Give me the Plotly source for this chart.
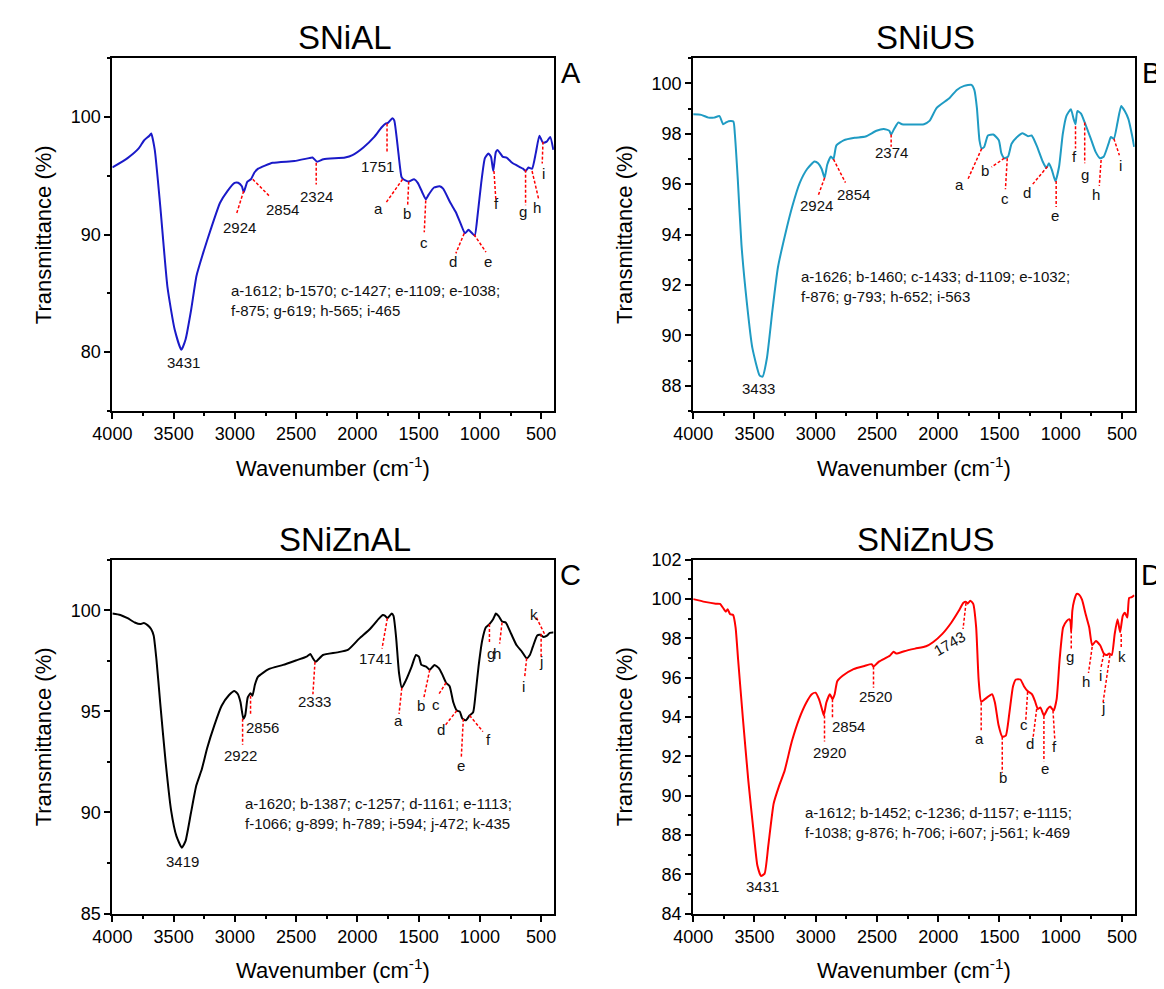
import plotly.graph_objects as go

# ---------------- data ----------------
panels = ["A", "B", "C", "D"]
titles = ["SNiAL", "SNiUS", "SNiZnAL", "SNiZnUS"]
colors = ["#1a1ac8", "#1f9bc3", "#000000", "#ff0000"]

wn_A = [4000,3876,3787,3742,3698,3683,3654,3609,3550,3491,3437,3402,3357,3313,3254,3195,3121,3061,3002,2973,2943,2928,2898,2869,2839,2810,2691,2514,2395,2366,2330,2277,2100,2040,1951,1862,1803,1767,1750,1714,1699,1670,1640,1625,1581,1537,1507,1471,1442,1418,1374,1329,1300,1241,1196,1152,1122,1093,1063,1042,1019,989,959,930,909,891,870,856,812,782,737,648,625,604,574,544,514,485,455,426,400]
t_A = [95.7,96.5,97.3,98.0,98.4,98.6,97.2,92.4,85.5,81.9,80.2,81.1,83.6,86.5,88.6,90.5,92.7,93.7,94.4,94.4,94.1,93.6,94.5,94.7,95.3,95.6,96.1,96.25,96.5,96.55,96.2,96.4,96.55,96.75,97.4,98.3,99.1,99.45,99.5,99.9,99.7,97.4,94.9,94.7,94.5,94.7,94.4,93.6,93.0,93.4,94.0,94.1,93.9,92.7,91.9,90.8,90.1,90.4,90.1,89.9,91.6,94.4,96.5,96.9,96.6,95.4,97.0,97.2,96.6,96.55,96.1,95.6,95.4,95.7,95.6,96.9,98.4,97.8,97.9,98.3,97.2]

wn_B = [4000,3934,3875,3830,3785,3756,3732,3711,3672,3660,3636,3606,3562,3517,3457,3434,3398,3353,3308,3249,3189,3130,3070,3010,2980,2951,2927,2906,2876,2855,2831,2772,2682,2593,2504,2444,2399,2384,2360,2325,2295,2116,2071,2012,1907,1848,1788,1728,1705,1684,1663,1645,1624,1594,1550,1505,1484,1460,1430,1401,1356,1311,1266,1237,1192,1147,1117,1096,1072,1043,1013,983,953,917,894,879,864,834,804,759,715,679,649,610,590,566,536,506,477,447,417,400]
t_B = [98.77,98.75,98.64,98.64,98.7,98.38,98.45,98.5,98.49,98.0,96.2,93.6,91.3,89.5,88.4,88.36,89.1,91.0,92.7,94.0,95.15,96.05,96.6,96.9,96.83,96.6,96.25,96.77,97.1,96.99,97.54,97.74,97.84,97.89,98.12,98.19,98.12,97.97,98.19,98.45,98.38,98.38,98.51,99.03,99.42,99.74,99.9,99.94,99.74,99.03,97.74,97.41,97.48,97.93,97.97,97.74,97.22,97.03,97.09,97.6,97.87,98.02,97.9,97.93,97.48,96.9,96.64,96.83,96.57,96.12,96.7,97.99,98.71,98.97,98.58,98.38,98.9,98.8,98.45,97.87,97.28,97.03,97.09,97.6,97.87,97.8,98.45,99.1,98.9,98.58,97.93,97.48]

wn_C = [4000,3935,3876,3817,3773,3743,3713,3684,3663,3640,3610,3566,3521,3477,3433,3403,3359,3315,3270,3226,3167,3108,3049,3004,2975,2954,2931,2916,2895,2872,2857,2836,2812,2724,2606,2488,2414,2384,2363,2340,2281,2163,2074,1985,1897,1823,1793,1773,1755,1720,1705,1684,1660,1637,1607,1557,1522,1498,1477,1439,1409,1371,1335,1306,1276,1247,1217,1188,1164,1143,1114,1084,1055,1034,1011,981,951,922,892,869,848,819,789,745,700,656,618,592,568,532,508,479,449,429,400]
t_C = [99.84,99.77,99.61,99.4,99.32,99.37,99.27,99.08,98.76,97.55,95.45,92.54,90.12,88.83,88.26,88.58,89.96,91.33,92.14,93.19,94.32,95.28,95.8,96.01,95.85,95.45,94.64,94.8,95.69,95.9,95.77,96.33,96.71,97.09,97.3,97.55,97.71,97.84,97.63,97.46,97.79,97.92,98.06,98.6,99.08,99.6,99.77,99.73,99.61,99.84,99.73,98.68,96.9,96.17,96.5,97.22,97.79,97.71,97.3,97.22,97.06,97.3,97.14,96.82,96.42,96.25,95.45,95.04,94.99,94.64,94.56,94.8,94.96,95.93,97.22,98.51,99.16,99.32,99.56,99.84,99.73,99.45,99.4,98.84,98.27,97.95,97.63,97.79,98.19,98.76,98.79,98.68,98.76,98.89,98.9]

wn_D = [4000,3905,3816,3781,3757,3734,3719,3698,3674,3654,3633,3594,3550,3506,3476,3446,3417,3387,3343,3298,3254,3195,3135,3076,3032,3002,2973,2949,2934,2913,2884,2863,2845,2824,2780,2691,2602,2543,2528,2484,2395,2365,2342,2277,2188,2099,2040,1966,1892,1833,1794,1773,1759,1738,1714,1690,1670,1649,1619,1560,1537,1507,1477,1448,1418,1389,1365,1329,1300,1270,1235,1211,1187,1166,1137,1107,1086,1057,1033,1009,980,950,929,920,914,905,891,870,849,826,796,767,743,713,678,648,624,604,583,559,536,515,494,476,456,441,420,400]
t_D = [100.0,99.86,99.77,99.76,99.56,99.36,99.48,99.23,99.19,98.56,96.9,93.91,90.76,88.1,86.44,85.91,86.03,87.44,89.6,90.51,91.26,92.75,93.91,94.74,95.16,95.24,94.91,94.41,94.08,94.74,95.16,94.91,95.16,95.82,96.1,96.44,96.6,96.69,96.57,96.82,97.12,97.32,97.23,97.35,97.48,97.6,97.82,98.23,98.81,99.39,99.81,99.86,99.77,99.92,99.76,98.56,95.91,94.78,94.91,95.16,94.74,93.58,93.0,93.05,94.25,95.57,95.91,95.91,95.57,95.32,95.16,94.83,94.41,94.49,94.08,94.41,94.53,94.33,94.91,96.9,98.56,98.89,98.98,98.85,98.35,99.4,99.9,100.26,100.22,99.97,99.23,98.56,97.65,97.87,97.65,97.23,97.15,97.23,97.15,98.23,98.98,98.31,99.14,99.31,99.06,100.06,100.1,100.2]

# y-axis ranges and tick steps per panel
y_ranges = [[75, 105], [87, 101], [85, 102.5], [84, 102]]
y_dtick = [10, 2, 5, 2]
y_minor = [5, 1, 2.5, 1]

# red guide lines: (x0, y0, x1, y1) in data units
guides_A = [(2928,93.7,2987,91.75),(2854,94.7,2721,93.3),(2336,96.1,2336,94.25),(1758,99.45,1758,96.9),
            (1631,94.7,1767,92.7),(1581,94.5,1590,92.4),(1442,92.9,1454,90.2),(1128,90.1,1196,88.4),
            (1048,90.0,950,88.5),(885,95.4,870,93.0),(627,95.5,627,92.5),(574,95.4,521,93.05),(485,97.9,491,96.05)]
labels_A = [("3431",3417,79.1),("2924",2964,90.6),("2854",2608,92.1),("2324",2330,93.2),("1751",1838,95.8),
            ("a",1824,92.2),("b",1596,91.75),("c",1457,89.3),("d",1220,87.7),("e",935,87.7),
            ("f",867,92.6),("g",648,92.0),("h",536,92.3),("i",482,95.2)]
note_A = ("a-1612; b-1570; c-1427; e-1109; e-1038;<br>f-875; g-619; h-565; i-465", 3052, 84.4)

guides_B = [(2927,96.25,2980,95.54),(2855,96.99,2757,96.06),(2384,97.97,2384,97.48),(1645,97.41,1758,96.19),
            (1460,97.03,1564,96.68),(1436,97.03,1451,95.8),(1108,96.7,1228,96.0),(1037,96.12,1037,95.09),
            (879,98.3,879,97.41),(804,98.45,804,96.83),(670,96.96,685,95.93),(566,97.8,521,97.15)]
labels_B = [("3433",3463,87.9),("2924",2995,95.15),("2854",2691,95.6),("2374",2378,97.25),
            ("a",1824,96.0),("b",1618,96.55),("c",1451,95.43),("d",1275,95.67),("e",1043,94.76),
            ("f",885,97.1),("g",804,96.38),("h",709,95.6),("i",515,96.73)]
note_B = ("a-1626; b-1460; c-1433; d-1109; e-1032;<br>f-876; g-793; h-652; i-563", 3135, 91.93)

guides_C = [(2937,94.64,2937,93.35),(2872,95.77,2872,94.8),(2346,97.46,2363,95.85),(1755,99.61,1799,98.11),
            (1637,96.17,1660,94.88),(1409,97.06,1460,95.6),(1276,96.42,1335,95.85),(1188,95.04,1282,94.32),
            (1135,94.64,1152,92.7),(1084,94.8,975,94.0),(922,99.32,922,98.35),(819,99.4,839,98.35),
            (618,97.63,635,96.66),(500,98.84,500,97.63),(538,99.64,473,98.84)]
labels_C = [("3419",3427,87.58),("2922",2954,92.83),("2856",2777,94.2),("2333",2349,95.5),("1741",1852,97.63),
            ("a",1666,94.53),("b",1477,95.3),("c",1359,95.33),("d",1321,94.12),("e",1158,92.3),
            ("f",931,93.6),("g",912,97.87),("h",858,97.87),("i",647,96.25),("j",500,97.46),("k",562,99.77)]
note_C = ("a-1620; b-1387; c-1257; d-1161; e-1113;<br>f-1066; g-899; h-789; i-594; j-472; k-435", 2937, 89.95)

guides_D = [(2928,94.08,2928,92.75),(2863,94.91,2863,93.91),(2528,96.57,2528,95.49),(1773,99.81,1797,98.48),
            (1649,94.74,1649,93.33),(1477,93.0,1477,91.17),(1270,95.28,1285,93.83),(1196,94.41,1226,92.92),
            (1137,94.05,1137,91.75),(1063,94.33,1048,92.83),(914,98.4,914,97.4),(743,97.57,773,96.24),
            (648,97.2,672,96.49),(598,97.15,654,94.74),(506,98.23,506,97.48)]
labels_D = [("3431",3431,85.36),("2920",2884,92.17),("2854",2736,93.5),("2520",2513,95.03),
            ("a",1661,92.92),("b",1471,90.92),("c",1300,93.61),("d",1249,92.67),("e",1131,91.39),
            ("f",1048,92.5),("g",921,97.1),("h",796,95.82),("i",678,96.1),("j",654,94.5),("k",500,97.1)]
rot_label_D = ("1743", 1907, 97.73)
note_D = ("a-1612; b-1452; c-1236; d-1157; e-1115;<br>f-1038; g-876; h-706; i-607; j-561; k-469", 3106, 88.64)

series = [(wn_A, t_A), (wn_B, t_B), (wn_C, t_C), (wn_D, t_D)]
guides = [guides_A, guides_B, guides_C, guides_D]
labels = [labels_A, labels_B, labels_C, labels_D]
notes = [note_A, note_B, note_C, note_D]

# ---------------- layout geometry (page pixels) ----------------
W, H = 1164, 989
OFF = 8  # default body margin of the html page
frames = [(94, 544, 49, 409), (686, 1136, 49, 409), (94, 544, 561, 922), (686, 1136, 561, 922)]
FONT = "Arial, Liberation Sans, sans-serif"


def px(x):
    return (x - OFF) / W


def py(y):
    return 1 - (y - OFF) / H


fig = go.Figure()
annotations = []
layout = dict(width=W, height=H, margin=dict(l=0, r=0, t=0, b=0),
              paper_bgcolor="white", plot_bgcolor="white", showlegend=False,
              font=dict(family=FONT, color="black"))

for i in range(4):
    n = "" if i == 0 else str(i + 1)
    xa, ya = "x" + n, "y" + n
    x0p, x1p, y0p, y1p = frames[i]
    wn, t = series[i]
    fig.add_trace(go.Scatter(x=wn, y=t, mode="lines", xaxis=xa, yaxis=ya,
                             line=dict(color=colors[i], width=2, shape="spline", smoothing=0.5),
                             hoverinfo="skip"))
    gx, gy = [], []
    for (a, b, c, d) in guides[i]:
        gx += [a, c, None]
        gy += [b, d, None]
    fig.add_trace(go.Scatter(x=gx, y=gy, mode="lines", xaxis=xa, yaxis=ya,
                             line=dict(color="#ff0000", width=1.5, dash="3px,2px"), hoverinfo="skip"))
    for (txt, x, y) in labels[i]:
        annotations.append(dict(text=txt, x=x, y=y, xref=xa, yref=ya, showarrow=False,
                                xanchor="center", yanchor="middle",
                                font=dict(size=15, family=FONT, color="#111")))
    nt, nx, ny = notes[i]
    annotations.append(dict(text=nt, x=nx, y=ny, xref=xa, yref=ya, showarrow=False,
                            xanchor="left", yanchor="middle", align="left",
                            font=dict(size=15, family=FONT, color="#111")))
    if i == 3:
        txt, x, y = rot_label_D
        annotations.append(dict(text=txt, x=x, y=y, xref=xa, yref=ya, showarrow=False,
                                xanchor="center", yanchor="middle",
                                textangle=-30, font=dict(size=15, family=FONT, color="#111")))

    axis_common = dict(showline=True, linecolor="black", linewidth=2, mirror=True,
                       ticks="outside", ticklen=6, tickwidth=2, tickcolor="black",
                       showgrid=False, zeroline=False,
                       tickfont=dict(size=18, family=FONT, color="black"))
    layout["xaxis" + n] = dict(axis_common, domain=[px(x0p), px(x1p)], range=[4000, 396],
                               anchor=ya, tickmode="linear", tick0=0, dtick=500,
                               minor=dict(dtick=250, tick0=0, ticks="outside", ticklen=3,
                                          tickwidth=1.5, tickcolor="black"))
    layout["yaxis" + n] = dict(axis_common, domain=[py(y1p), py(y0p)], range=y_ranges[i],
                               anchor=xa, tickmode="linear", tick0=0, dtick=y_dtick[i],
                               minor=dict(dtick=y_minor[i], tick0=0, ticks="outside", ticklen=3,
                                          tickwidth=1.5, tickcolor="black"))

    cx = (x0p + x1p) / 2
    cy = (y0p + y1p) / 2
    # panel title
    annotations.append(dict(text=titles[i], x=px(cx + 12), y=py(y0p - 21), xref="paper", yref="paper",
                            xanchor="center", yanchor="middle", showarrow=False,
                            font=dict(size=33, family=FONT, color="black")))
    # panel letter
    annotations.append(dict(text=panels[i], x=px(x1p + 17), y=py(y0p + 15), xref="paper", yref="paper",
                            xanchor="center", yanchor="middle", showarrow=False,
                            font=dict(size=29, family=FONT, color="black")))
    # axis titles
    annotations.append(dict(text="Wavenumber (cm<sup>-1</sup>)", x=px(cx), y=py(y1p + 57),
                            xref="paper", yref="paper", xanchor="center", yanchor="middle",
                            showarrow=False, font=dict(size=22, family=FONT, color="black")))
    annotations.append(dict(text="Transmittance (%)", x=px(x0p - 70), y=py(cy),
                            xref="paper", yref="paper", xanchor="center", yanchor="middle",
                            showarrow=False, textangle=-90,
                            font=dict(size=22, family=FONT, color="black")))

layout["annotations"] = annotations
fig.update_layout(**layout)
fig.write_html("out.html")
